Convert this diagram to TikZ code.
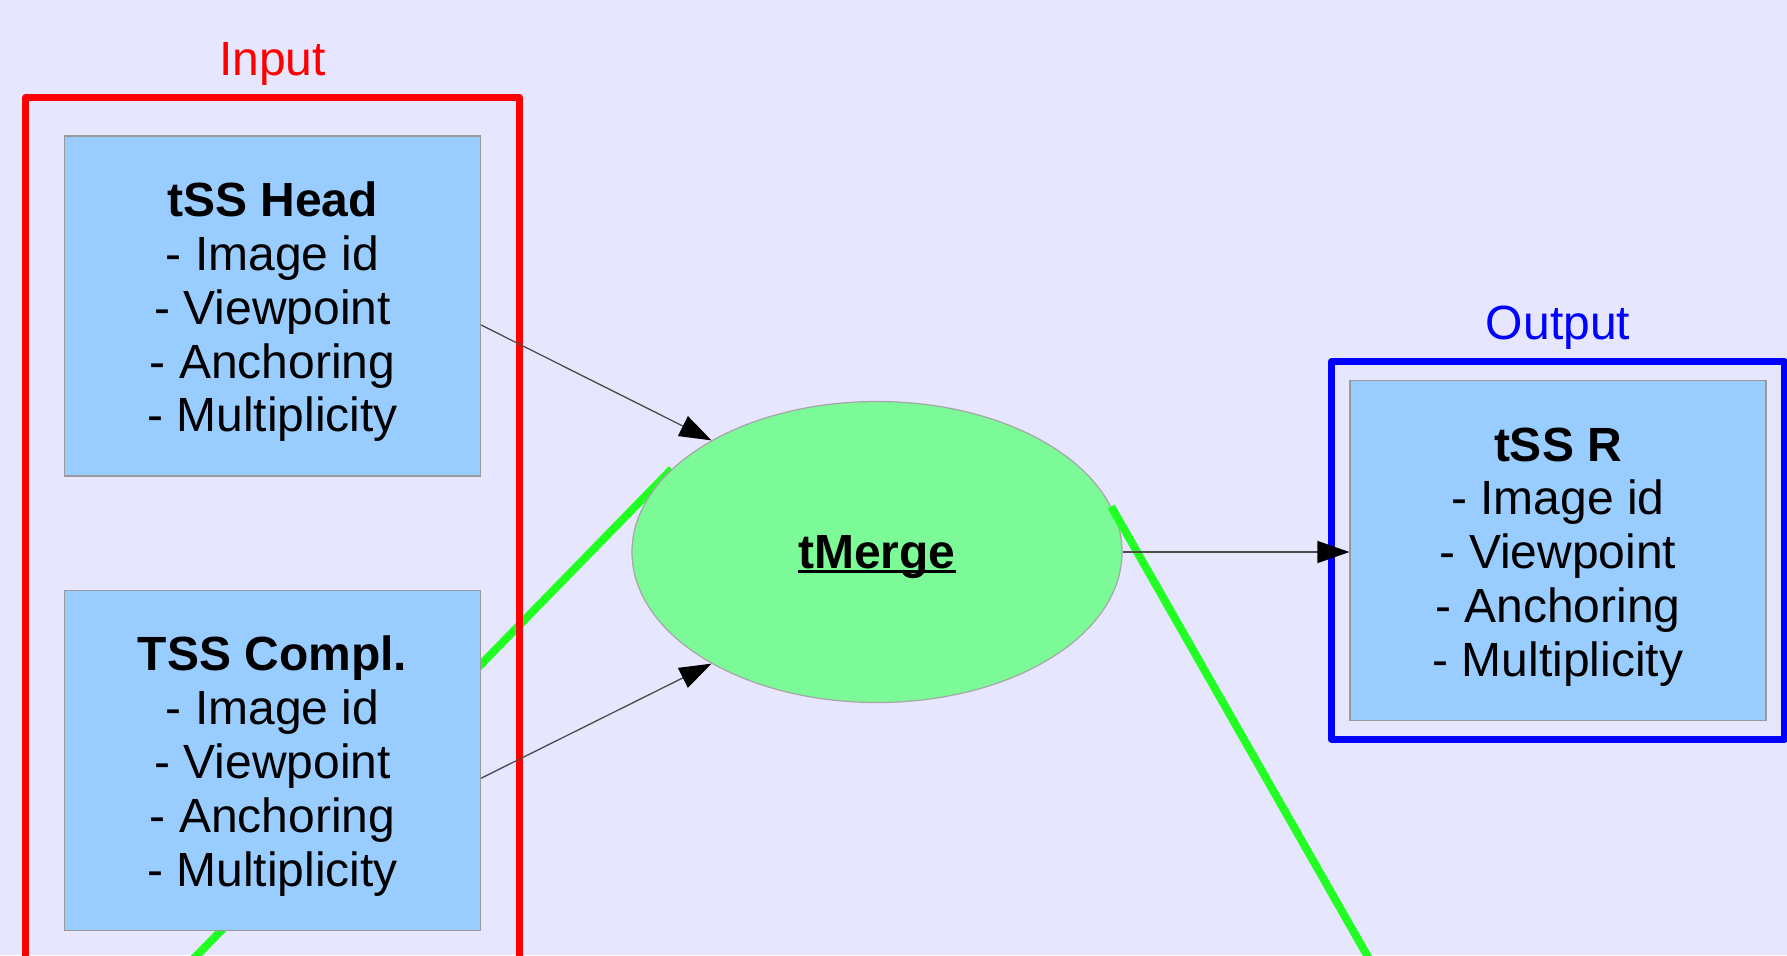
\documentclass[tikz,border=0pt]{standalone}
\usepackage{fontspec}
\setmainfont{Liberation Sans}
\usepackage{tikz}
\usetikzlibrary{arrows.meta,positioning,fit,shapes.geometric,backgrounds}

\definecolor{bglilac}{HTML}{E6E6FF}
\definecolor{fieldblue}{HTML}{99CCFF}
\definecolor{mergegreen}{HTML}{7CFA98}
\definecolor{linkgreen}{HTML}{22FF22}

\newsavebox\ulbox
\newcommand{\ulword}[1]{\sbox\ulbox{#1}\rlap{\rule[-2.1pt]{\wd\ulbox}{1.6pt}}\usebox\ulbox}
\newcommand{\fieldtitle}[1]{\rule{0pt}{23.2pt}\textbf{#1}}

\begin{document}
\begin{tikzpicture}[x=0.5pt,y=-0.5pt,>={Triangle[length=16pt,width=11pt,color=black]},
	big font/.style={font=\fontsize{24}{26.9}\selectfont},
	field box/.style={rectangle,fill=fieldblue,draw=black!40,line width=0.6pt,big font,align=center,minimum width=208pt,minimum height=170pt},
	merge node/.style={ellipse,fill=mergegreen,draw=black!35,line width=0.6pt,inner sep=0pt,text depth=0pt,font=\fontsize{24}{26.9}\selectfont\bfseries,minimum width=245pt,minimum height=150.5pt},
	frame box/.style={rectangle,line width=3.5pt,line join=round},
	link/.style={linkgreen,line width=4pt},
	flow/.style={->,draw=black!70,line width=0.65pt}]

	\useasboundingbox (0,0) rectangle (1787,955);

	% input side
	\node[field box] (head) at (272.5,306) {\fieldtitle{tSS Head}\\- Image id\\- Viewpoint\\- Anchoring\\- Multiplicity};
	\node[field box] (compl) [below=56.5pt of head] {\fieldtitle{TSS Compl.}\\- Image id\\- Viewpoint\\- Anchoring\\- Multiplicity};

	% merge and result
	\node[merge node] (merge) at (877,552) {\ulword{tMerge}};
	\node[field box] (result) at (1558,550.5) {\fieldtitle{tSS R}\\- Image id\\- Viewpoint\\- Anchoring\\- Multiplicity};

	% frames
	\node[frame box,draw=red,fit=(head)(compl),inner sep=19pt] (input) {};
	\node[frame box,draw=blue,fit=(result),inner sep=9pt] (output) {};
	\node[big font,text=red,inner sep=0pt,above=4pt of input] (input label) {Input};
	\node[big font,text=blue,inner sep=0pt,above=4.5pt of output] (output label) {Output};

	% green links
	\coordinate (link in) at (168,985);
	\coordinate (link out) at (1384,985);
	\begin{scope}[on background layer]
		\clip (0,0) rectangle (1787,955);
		\fill[bglilac] (0,0) rectangle (1787,955);
		\draw[link] (link in) -- (merge.158);
	\end{scope}
	\begin{scope}
		\clip (0,0) rectangle (1787,955);
		\draw[link] (merge.11) -- (link out);
	\end{scope}

	\path[every edge/.append style={flow}]
		([yshift=-9.5pt]head.east) edge (merge.146)
		([yshift=-9pt]compl.east) edge (merge.214)
		(merge.east) edge (merge.east -| result.west);

\end{tikzpicture}
\end{document}
